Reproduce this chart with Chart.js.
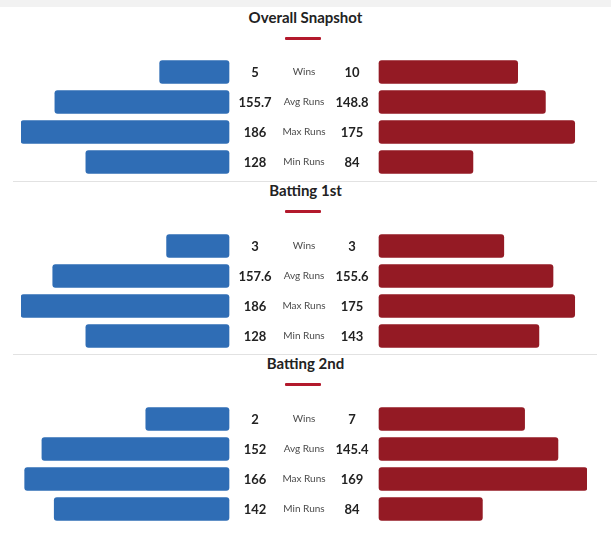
<!DOCTYPE html>
<html>
<head>
<meta charset="utf-8">
<script src="https://cdn.jsdelivr.net/npm/chart.js@4.4.0/dist/chart.umd.min.js"></script>
<style>
  html, body { margin: 0; padding: 0; background: #fff; }
  body { width: 611px; height: 538px; position: relative; overflow: hidden; font-family: Lato, "Open Sans", sans-serif; }
  .topband { position: absolute; left: 0; top: 0; width: 611px; height: 7px; background: #f2f2f2; }
  .title { position: absolute; left: 0; width: 611px; text-align: center; font-weight: 700; font-size: 15px; color: #222; line-height: 18px; }
  .underline { position: absolute; left: 285px; width: 36px; height: 3px; background: #b3192c; border-radius: 1px; }
  .sep { position: absolute; left: 13px; width: 584px; height: 1px; background: #e2e2e2; }
  .wrap { position: absolute; left: 0; width: 611px; height: 120px; }
</style>
</head>
<body>
<div class="topband"></div>
<div id="page"></div>
<script>
'use strict';

// ---- data ----
const sectionTitles = ['Overall Snapshot', 'Batting 1st', 'Batting 2nd'];
const categories    = ['Wins', 'Avg Runs', 'Max Runs', 'Min Runs'];

const overallLeft  = [5, 155.7, 186, 128];
const overallRight = [10, 148.8, 175, 84];
const bat1Left     = [3, 157.6, 186, 128];
const bat1Right    = [3, 155.6, 175, 143];
const bat2Left     = [2, 152, 166, 142];
const bat2Right    = [7, 145.4, 169, 84];

// matches played (wins bar is wins / matches)
const leftMatches  = [15, 10, 5];
const rightMatches = [15, 5, 10];

const BLUE = '#2f6db5';
const RED  = '#941a24';

// layout (px)
const sectionTops = [0, 173, 346];
const BAR_PX = 208;     // full-length bar
const HALF_GAP_PX = 75; // centre to bar start
const GAP = HALF_GAP_PX / BAR_PX * 100;

const centreLabels = {
  id: 'centreLabels',
  afterDatasetsDraw(chart, args, opts) {
    const { ctx, chartArea, scales } = chart;
    const cx = (chartArea.left + chartArea.right) / 2;
    ctx.save();
    ctx.textAlign = 'center';
    ctx.textBaseline = 'middle';
    categories.forEach((cat, i) => {
      const y = scales.y.getPixelForValue(i);
      ctx.fillStyle = '#222';
      ctx.font = 'bold 13px Lato, "Open Sans", sans-serif';
      ctx.fillText(String(opts.left[i]), cx - 49, y + 1);
      ctx.fillText(String(opts.right[i]), cx + 48, y + 1);
      ctx.fillStyle = '#4a4a4a';
      ctx.font = '10px Lato, "Open Sans", sans-serif';
      ctx.fillText(cat, cx, y);
    });
    ctx.restore();
  }
};

function shares(vals, matches, runMax) {
  return vals.map((v, i) => (i === 0 ? v / matches : v / runMax) * 100);
}

function buildSection(k, left, right) {
  const page = document.getElementById('page');
  const top = sectionTops[k];

  const t = document.createElement('div');
  t.className = 'title';
  t.style.top = (top + 8) + 'px';
  t.textContent = sectionTitles[k];
  page.appendChild(t);

  const u = document.createElement('div');
  u.className = 'underline';
  u.style.top = (top + 37) + 'px';
  page.appendChild(u);

  if (k > 0) {
    const s = document.createElement('div');
    s.className = 'sep';
    s.style.top = (top + 8) + 'px';
    page.appendChild(s);
  }

  const w = document.createElement('div');
  w.className = 'wrap';
  w.style.top = (top + (k > 0 ? 58 : 57)) + 'px';
  const cv = document.createElement('canvas');
  w.appendChild(cv);
  page.appendChild(w);

  const runMax = Math.max(...left.slice(1), ...right.slice(1));
  const lShare = shares(left, leftMatches[k], runMax);
  const rShare = shares(right, rightMatches[k], runMax);

  new Chart(cv.getContext('2d'), {
    type: 'bar',
    data: {
      labels: categories,
      datasets: [
        { data: lShare.map(p => [-GAP - p, -GAP]), backgroundColor: BLUE },
        { data: rShare.map(p => [GAP, GAP + p]), backgroundColor: RED }
      ]
    },
    options: {
      indexAxis: 'y',
      responsive: true,
      maintainAspectRatio: false,
      animation: false,
      layout: { padding: { left: 21, right: 24, top: 0, bottom: 0 } },
      datasets: { bar: { barThickness: 23, borderRadius: 3, borderSkipped: false, grouped: false } },
      plugins: {
        legend: { display: false },
        tooltip: { enabled: false },
        centreLabels: { left, right }
      },
      scales: {
        x: { display: false, min: -GAP - 100, max: GAP + 100 },
        y: { display: false }
      }
    },
    plugins: [centreLabels]
  });
}

buildSection(0, overallLeft, overallRight);
buildSection(1, bat1Left, bat1Right);
buildSection(2, bat2Left, bat2Right);
</script>
</body>
</html>
